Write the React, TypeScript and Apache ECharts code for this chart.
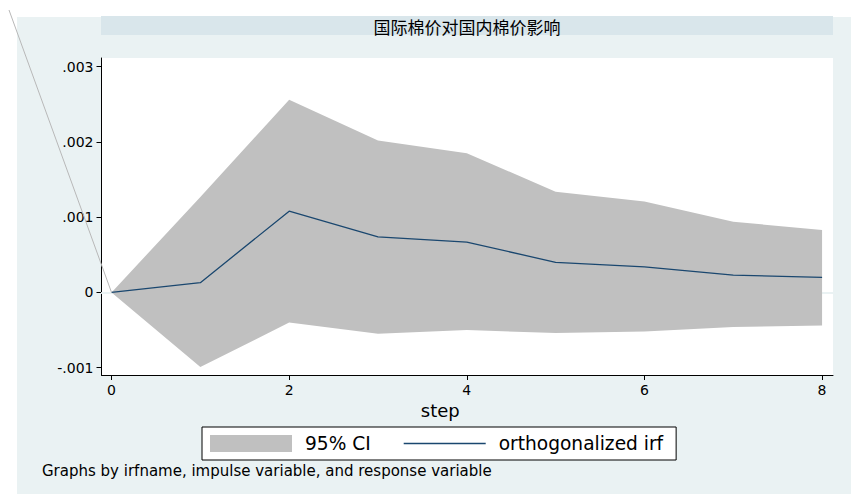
import React, { useEffect, useRef } from "react";
import * as echarts from "echarts";

const TITLE = "国际棉价对国内棉价影响";
const NOTE = "Graphs by irfname, impulse variable, and response variable";
const X_NAME = "step";

const steps = [0, 1, 2, 3, 4, 5, 6, 7, 8];
const irf = [0, 0.00013, 0.00108, 0.00074, 0.00067, 0.0004, 0.00034, 0.00023, 0.0002];
const ciUpper = [0, 0.00127, 0.00256, 0.00202, 0.00185, 0.00134, 0.00121, 0.00094, 0.00083];
const ciLower = [0, -0.00099, -0.0004, -0.00055, -0.0005, -0.00054, -0.00052, -0.00046, -0.00044];

const xTicks = [0, 2, 4, 6, 8];
const xTickLabels = ["0", "2", "4", "6", "8"];
const yTicks = [-0.001, 0, 0.001, 0.002, 0.003];
const yTickLabels = ["-.001", "0", ".001", ".002", ".003"];

const CI_NAME = "95% CI";
const IRF_NAME = "orthogonalized irf";

const lookup = (vals: number[], labels: string[]) => (v: number) => {
  const i = vals.findIndex((t) => Math.abs(t - v) < 1e-9);
  return i >= 0 ? labels[i] : "";
};

export default function App() {
  const ref = useRef<HTMLDivElement>(null);
  useEffect(() => {
    if (!ref.current) return;
    const chart = echarts.init(ref.current, null, { renderer: "svg" });
    const font = "DejaVu Sans";
    const bgEls: any[] = [
      {
        id: "outerbg",
        type: "rect",
        shape: { x: 17, y: 17, width: 834, height: 477 },
        style: { fill: "#eaf2f3" },
        z: -10,
        silent: true,
      },
      {
        id: "strip",
        type: "rect",
        shape: { x: 101, y: 16, width: 732, height: 19 },
        style: { fill: "#d9e6eb" },
        z: -9,
        silent: true,
      },
    ];
    const option: any = {
      animation: false,
      textStyle: { fontFamily: font },
      title: [
        {
          text: TITLE,
          left: 467,
          top: 17,
          textAlign: "center",
          padding: 0,
          textStyle: {
            fontFamily: "Noto Sans CJK SC",
            fontSize: 17,
            fontWeight: "normal",
            color: "#000",
            lineHeight: 18,
          },
        },
        {
          text: NOTE,
          left: 42,
          top: 463,
          padding: 0,
          textStyle: { fontFamily: font, fontSize: 15, fontWeight: "normal", color: "#000" },
        },
      ],
      grid: {
        left: 101.5,
        right: 18,
        top: 58,
        bottom: 119,
        show: true,
        backgroundColor: "#ffffff",
        borderWidth: 0,
        containLabel: false,
        outerBoundsMode: "none",
      },
      legend: {
        left: 202,
        top: 427,
        orient: "horizontal",
        padding: [7, 13, 7, 8],
        itemWidth: 82,
        itemHeight: 17,
        itemGap: 33,
        symbolKeepAspect: true,
        backgroundColor: "#ffffff",
        borderColor: "#000",
        borderWidth: 1,
        borderRadius: 0,
        textStyle: { fontFamily: font, fontSize: 18.6, color: "#000", padding: [0, 0, 0, 8], lineHeight: 17 },
        data: [
          { name: CI_NAME, icon: "rect" },
          { name: IRF_NAME, icon: "path://M0,0L82,0L82,1.5L0,1.5Z" },
        ],
      },
      xAxis: {
        type: "value",
        min: -0.113,
        max: 8.123,
        name: X_NAME,
        nameLocation: "middle",
        nameGap: 26,
        nameTextStyle: { fontFamily: font, fontSize: 18, color: "#000", padding: [0, 54, 0, 0] },
        axisLine: { show: true, onZero: false, lineStyle: { color: "#000", width: 1 } },
        axisTick: { show: true, customValues: xTicks, length: 5, lineStyle: { color: "#000" } },
        axisLabel: {
          customValues: xTicks,
          formatter: lookup(xTicks, xTickLabels),
          margin: 8,
          fontSize: 14,
          color: "#000",
          fontFamily: font,
        },
        splitLine: { show: false },
      },
      yAxis: {
        type: "value",
        min: -0.001097,
        max: 0.003116,
        axisLine: { show: true, onZero: false, lineStyle: { color: "#000", width: 1 } },
        axisTick: { show: true, customValues: yTicks, length: 5, lineStyle: { color: "#000" } },
        axisLabel: {
          customValues: yTicks,
          formatter: lookup(yTicks, yTickLabels),
          margin: 8,
          fontSize: 14,
          color: "#000",
          fontFamily: font,
        },
        splitLine: { show: false },
      },
      series: [
        {
          type: "line",
          name: "_grid",
          z: 1,
          silent: true,
          symbol: "none",
          data: steps.map((s, i) => [s, irf[i]]),
          lineStyle: { opacity: 0 },
          markLine: {
            z: 1,
            silent: true,
            symbol: ["none", "none"],
            label: { show: false },
            lineStyle: { color: "#eaf2f3", width: 1.5, type: "solid" },
            data: yTicks.map((v) => ({ yAxis: v })),
          },
        },
        {
          type: "custom",
          name: CI_NAME,
          z: 3,
          itemStyle: { color: "#c0c0c0" },
          data: steps.map((s, i) => [s, ciUpper[i], ciLower[i]]),
          encode: { x: 0, y: [1, 2] },
          renderItem: (params: any, api: any) => {
            if (params.dataIndex !== 0) return null;
            const pts: number[][] = [];
            for (let i = 0; i < steps.length; i++) pts.push(api.coord([steps[i], ciUpper[i]]));
            for (let i = steps.length - 1; i >= 0; i--) pts.push(api.coord([steps[i], ciLower[i]]));
            return { type: "polygon", shape: { points: pts }, style: { fill: "#c0c0c0" } };
          },
        },
        {
          type: "line",
          name: IRF_NAME,
          z: 4,
          symbol: "none",
          data: steps.map((s, i) => [s, irf[i]]),
          lineStyle: { color: "#1a476f", width: 1.3 },
          itemStyle: { color: "#1a476f" },
        },
      ],
      graphic: { elements: bgEls },
    };
    chart.setOption(option);
    const p = chart.convertToPixel({ gridIndex: 0 } as any, [steps[0], irf[0]]) as number[];
    chart.setOption({
      graphic: {
        elements: [
          ...bgEls,
          {
            id: "diag",
            type: "line",
            shape: { x1: 9, y1: 10, x2: p[0], y2: p[1] },
            style: { stroke: "#b8b8b8", lineWidth: 1 },
            z: 10,
            silent: true,
          },
        ],
      },
    });
    return () => chart.dispose();
  }, []);
  return (
    <div
      ref={ref}
      style={{ position: "fixed", left: 0, top: 0, width: 851, height: 494, background: "#fff" }}
    />
  );
}
